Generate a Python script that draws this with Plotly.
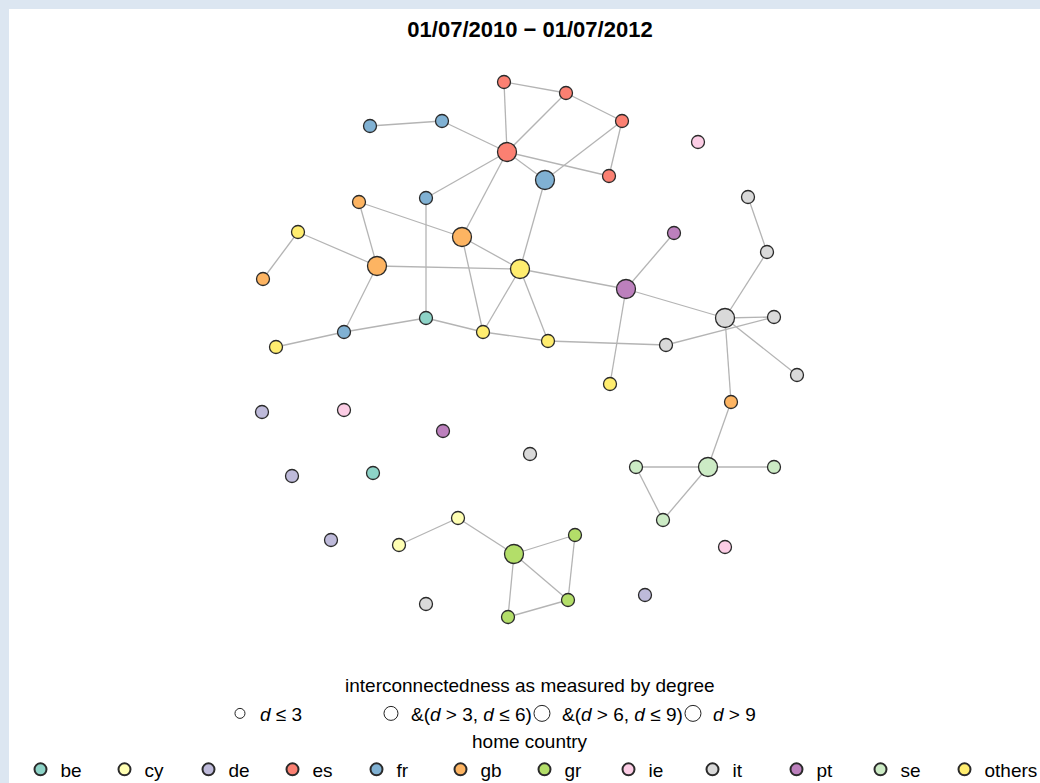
import plotly.graph_objects as go

# node layout (x, y in layout units, y grows downward), home country and degree
node_id = ["es0", "es1", "es2", "es3", "es4",
           "fr0", "fr1", "fr2", "fr3", "fr4",
           "gb0", "gb1", "gb2", "gb3", "gb4",
           "ot0", "ot1", "ot2", "ot3", "ot4", "ot5",
           "be0", "be1",
           "pt0", "pt1", "pt2",
           "it0", "it1", "it2", "it3", "it4", "it5", "it6", "it7",
           "ie0", "ie1", "ie2",
           "de0", "de1", "de2", "de3",
           "se0", "se1", "se2", "se3",
           "gr0", "gr1", "gr2", "gr3",
           "cy0", "cy1"]
node_x = [507, 504, 566, 622, 609,
          545, 370, 442, 426, 344,
          359, 462, 377, 263, 731,
          520, 298, 276, 483, 548, 610,
          426, 373,
          626, 674, 443,
          725, 748, 767, 774, 797, 666, 530, 426,
          698, 344, 725,
          262, 292, 331, 645,
          708, 636, 774, 663,
          514, 575, 568, 508,
          458, 399]
node_y = [152, 82, 93, 121, 176,
          180, 126, 121, 198, 332,
          202, 237, 266, 279, 402,
          269, 232, 347, 332, 341, 384,
          318, 473,
          289, 233, 431,
          318, 197, 252, 317, 375, 345, 454, 604,
          142, 410, 547,
          412, 476, 540, 595,
          467, 467, 467, 520,
          554, 535, 600, 617,
          518, 545]
node_country = ["es"] * 5 + ["fr"] * 5 + ["gb"] * 5 + ["others"] * 6 + ["be"] * 2 + \
               ["pt"] * 3 + ["it"] * 8 + ["ie"] * 3 + ["de"] * 4 + ["se"] * 4 + \
               ["gr"] * 4 + ["cy"] * 2
node_degree = [5, 2, 2, 3, 2,
               4, 1, 2, 2, 3,
               2, 4, 4, 1, 2,
               5, 2, 1, 3, 2, 1,
               2, 0,
               4, 1, 0,
               6, 1, 2, 2, 1, 2, 0, 0,
               0, 0, 0,
               0, 0, 0, 0,
               4, 2, 1, 2,
               4, 2, 3, 2,
               2, 1]

edges = [("es1", "es0"), ("es1", "es2"), ("es2", "es0"), ("es2", "es3"), ("es3", "es4"),
         ("es3", "fr0"), ("es0", "es4"), ("es0", "fr0"), ("es0", "fr2"), ("fr2", "fr1"),
         ("es0", "fr3"), ("es0", "gb1"), ("fr0", "ot0"), ("gb0", "gb2"), ("gb0", "gb1"),
         ("gb1", "ot0"), ("ot1", "gb2"), ("ot1", "gb3"), ("gb2", "ot0"), ("gb2", "fr4"),
         ("fr4", "ot2"), ("fr4", "be0"), ("be0", "fr3"), ("be0", "ot3"), ("ot3", "ot4"),
         ("gb1", "ot3"), ("ot0", "ot3"), ("ot0", "ot4"), ("ot0", "pt0"), ("ot4", "it5"),
         ("pt0", "pt1"), ("pt0", "ot5"), ("pt0", "it0"), ("it5", "it3"), ("it0", "it3"),
         ("it0", "it2"), ("it2", "it1"), ("it0", "it4"), ("it0", "gb4"), ("gb4", "se0"),
         ("se0", "se1"), ("se0", "se2"), ("se0", "se3"), ("se1", "se3"),
         ("cy1", "cy0"), ("cy0", "gr0"), ("gr0", "gr1"), ("gr1", "gr2"), ("gr0", "gr2"),
         ("gr0", "gr3"), ("gr3", "gr2")]

countries = ["be", "cy", "de", "es", "fr", "gb", "gr", "ie", "it", "pt", "se", "others"]
country_colors = ["#8dd3c7", "#ffffb3", "#bebada", "#fb8072", "#80b1d3", "#fdb462",
                  "#b3de69", "#fccde5", "#d9d9d9", "#bc80bd", "#ccebc5", "#ffed6f"]

degree_labels = ["<i>d</i> ≤ 3", "&amp;(<i>d</i> > 3, <i>d</i> ≤ 6)",
                 "&amp;(<i>d</i> > 6, <i>d</i> ≤ 9)", "<i>d</i> > 9"]
degree_bins = [3, 6, 9, 1000]

FONT = "Liberation Sans, Arial, sans-serif"
FS = 19


def node_size(d):
    sizes = [13, 19, 23, 27]
    for b, s in zip(degree_bins, sizes):
        if d <= b:
            return s
    return sizes[-1]


pos = {n: (x, y) for n, x, y in zip(node_id, node_x, node_y)}

ex, ey = [], []
for a, b in edges:
    ex += [pos[a][0], pos[b][0], None]
    ey += [pos[a][1], pos[b][1], None]

fig = go.Figure()
fig.add_trace(go.Scatter(x=ex, y=ey, mode="lines", hoverinfo="skip", showlegend=False,
                         line=dict(color="#b4b4b4", width=1.3)))

# degree legend (dummy traces)
for lab, s in zip(degree_labels, [10, 14, 17, 21]):
    fig.add_trace(go.Scatter(x=[None], y=[None], mode="markers", name=lab, legend="legend",
                             marker=dict(size=s, color="white",
                                         line=dict(color="#222222", width=1))))

for c, col in zip(countries, country_colors):
    idx = [i for i, cc in enumerate(node_country) if cc == c]
    fig.add_trace(go.Scatter(
        x=[node_x[i] for i in idx], y=[node_y[i] for i in idx],
        mode="markers", name=c, legend="legend2",
        legendwidth=60 if c == "others" else None,
        text=[node_id[i] for i in idx], hoverinfo="text",
        marker=dict(size=[node_size(node_degree[i]) for i in idx], color=col,
                    opacity=1, line=dict(color="#2a2a2a", width=1.3))))

fig.update_layout(
    width=1042, height=774,
    margin=dict(l=0, r=0, t=60, b=130),
    paper_bgcolor="white", plot_bgcolor="white",
    font=dict(family=FONT, size=FS, color="black"),
    title=dict(text="<b>01/07/2010 − 01/07/2012</b>", x=0.5, xanchor="center",
               y=0.974, yanchor="middle", font=dict(size=22, color="black")),
    xaxis=dict(range=[9, 1051], visible=False, fixedrange=True),
    yaxis=dict(range=[653, 69], visible=False, fixedrange=True),
    legend=dict(orientation="h", xref="container", yref="container",
                x=0.4923, xanchor="center", y=0.1143, yanchor="top",
                entrywidth=106, itemsizing="trace",
                font=dict(size=FS), bgcolor="rgba(0,0,0,0)"),
    legend2=dict(orientation="h", xref="container", yref="container",
                 x=0.5048, xanchor="center", y=0.042, yanchor="top",
                 entrywidth=39, itemsizing="constant",
                 font=dict(size=FS), bgcolor="rgba(0,0,0,0)"),
    annotations=[
        dict(text="interconnectedness as measured by degree", xref="paper", yref="paper",
             x=0.5, y=-0.0548, xanchor="center", yanchor="middle", showarrow=False,
             font=dict(size=FS)),
        dict(text="home country", xref="paper", yref="paper",
             x=0.5, y=-0.1507, xanchor="center", yanchor="middle", showarrow=False,
             font=dict(size=FS)),
    ],
)

page_js = ("document.body.style.margin='9px 0 0 9px';"
           "document.body.style.background='#dce6f1';"
           "document.body.style.overflow='hidden';")
fig.write_html("out.html", post_script=page_js)
